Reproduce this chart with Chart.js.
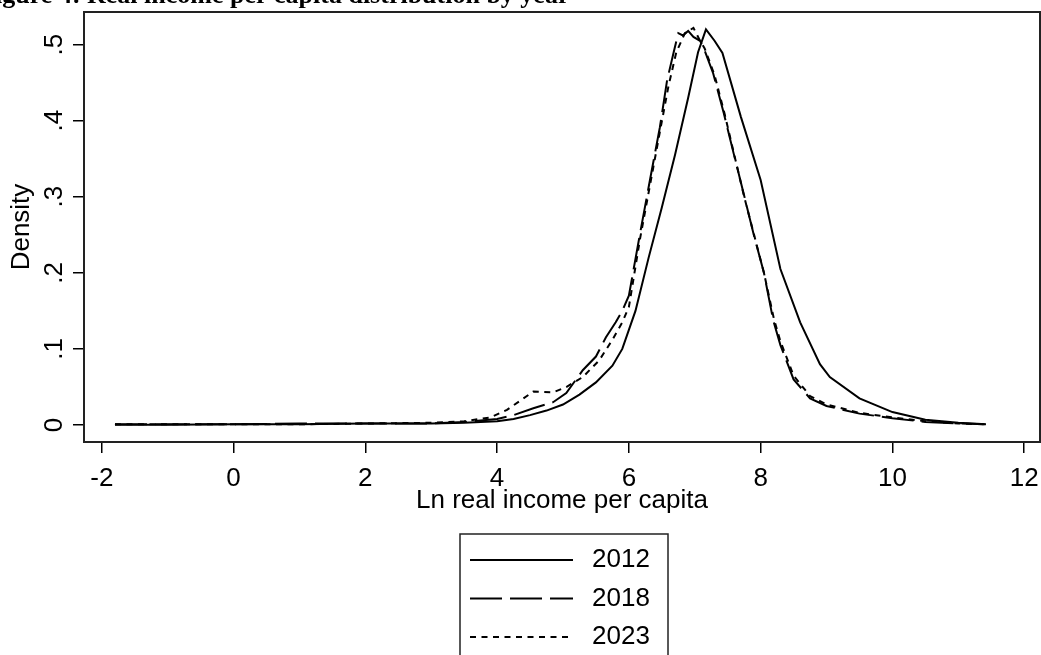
<!DOCTYPE html>
<html>
<head>
<meta charset="utf-8">
<script src="https://cdn.jsdelivr.net/npm/chart.js@4"></script>
<style>
  html, body { margin: 0; padding: 0; background: #fff; }
  #wrap { width: 1041px; height: 655px; }
</style>
</head>
<body>
<div id="wrap"><canvas id="chart" width="1041" height="655"></canvas></div>
<script>
// kernel density of ln real income per capita
const x2012 = [-1.8, -1, 0, 1, 2, 3, 3.5, 4, 4.25, 4.5, 4.75, 5, 5.25, 5.5, 5.75, 5.9, 6, 6.1, 6.3, 6.5, 6.7, 6.9, 7.05, 7.17, 7.3, 7.42, 7.7, 8.0, 8.3, 8.6, 8.9, 9.05, 9.5, 10, 10.5, 11, 11.42];
const y2012 = [0.0005, 0.0005, 0.001, 0.001, 0.002, 0.002, 0.003, 0.005, 0.008, 0.013, 0.019, 0.027, 0.040, 0.056, 0.078, 0.100, 0.125, 0.150, 0.220, 0.286, 0.355, 0.430, 0.490, 0.520, 0.505, 0.489, 0.405, 0.322, 0.205, 0.135, 0.080, 0.063, 0.035, 0.017, 0.007, 0.003, 0.001];

const x2018 = [-1.8, -1, 0, 1, 2, 3, 3.5, 4, 4.25, 4.55, 4.85, 5.05, 5.3, 5.5, 5.65, 5.8, 5.9, 6.0, 6.17, 6.32, 6.47, 6.58, 6.68, 6.75, 6.82, 6.9, 6.98, 7.08, 7.13, 7.28, 7.44, 7.59, 7.74, 7.89, 8.05, 8.19, 8.3, 8.5, 8.75, 9, 9.5, 10, 10.5, 11, 11.4];
const y2018 = [0.001, 0.001, 0.001, 0.002, 0.002, 0.002, 0.004, 0.008, 0.013, 0.022, 0.030, 0.042, 0.072, 0.090, 0.115, 0.135, 0.150, 0.170, 0.252, 0.322, 0.391, 0.453, 0.490, 0.515, 0.512, 0.518, 0.510, 0.505, 0.497, 0.462, 0.410, 0.357, 0.305, 0.252, 0.200, 0.138, 0.105, 0.060, 0.035, 0.025, 0.015, 0.009, 0.004, 0.002, 0.001];

const x2023 = [-1.8, -1, 0, 1, 2, 3, 3.5, 3.9, 4.15, 4.4, 4.55, 4.85, 5.05, 5.3, 5.55, 5.75, 5.9, 6.0, 6.17, 6.32, 6.47, 6.6, 6.72, 6.85, 6.98, 7.08, 7.15, 7.3, 7.45, 7.6, 7.75, 7.9, 8.05, 8.2, 8.3, 8.5, 8.75, 9, 9.5, 10, 10.5, 11, 11.4];
const y2023 = [0.001, 0.001, 0.001, 0.001, 0.002, 0.003, 0.005, 0.010, 0.020, 0.035, 0.044, 0.043, 0.050, 0.063, 0.085, 0.112, 0.135, 0.155, 0.245, 0.315, 0.385, 0.445, 0.490, 0.515, 0.522, 0.505, 0.495, 0.460, 0.410, 0.355, 0.300, 0.250, 0.200, 0.140, 0.110, 0.065, 0.038, 0.027, 0.016, 0.010, 0.005, 0.002, 0.001];

const years = ['2012', '2018', '2023'];
const xTicks = [-2, 0, 2, 4, 6, 8, 10, 12];
const yTicks = [0, 0.1, 0.2, 0.3, 0.4, 0.5];
const yTickLabels = ['0', '.1', '.2', '.3', '.4', '.5'];

const titleText = 'Figure 4: Real income per capita distribution by year';
const font = 'Liberation Sans';

function pts(xs, ys) {
    return xs.map((x, i) => ({x: x, y: ys[i]}));
}

// box around the plot area
const frame = {
    id: 'frame',
    afterDraw(chart) {
        const a = chart.chartArea;
        const ctx = chart.ctx;
        ctx.save();
        ctx.strokeStyle = '#222';
        ctx.lineWidth = 2;
        ctx.strokeRect(a.left, a.top, a.right - a.left, a.bottom - a.top);
        ctx.restore();
    }
};

// figure caption, cut off at the top of the page
const caption = {
    id: 'caption',
    afterDraw(chart) {
        const ctx = chart.ctx;
        ctx.save();
        ctx.font = 'bold 26px "Liberation Serif"';
        ctx.fillStyle = '#000';
        ctx.textBaseline = 'alphabetic';
        const x0 = 230 - ctx.measureText('Figure 4: Real income ').width;
        ctx.fillText(titleText, x0, 3);
        ctx.restore();
    }
};

// stata-style legend box under the axis title
const boxLegend = {
    id: 'boxLegend',
    afterDraw(chart) {
        const ctx = chart.ctx;
        ctx.save();
        ctx.strokeStyle = '#222';
        ctx.lineWidth = 1.5;
        ctx.strokeRect(460, 534, 208, 140);
        chart.data.datasets.forEach((ds, i) => {
            const y = 560 + i * 38.5;
            ctx.beginPath();
            ctx.setLineDash(ds.borderDash || []);
            ctx.lineWidth = 2;
            ctx.strokeStyle = '#000';
            ctx.moveTo(470, y);
            ctx.lineTo(573, y);
            ctx.stroke();
            ctx.setLineDash([]);
            ctx.font = '26px "' + font + '"';
            ctx.fillStyle = '#000';
            ctx.textBaseline = 'middle';
            ctx.fillText(ds.label, 592, y);
        });
        ctx.restore();
    }
};

new Chart(document.getElementById('chart'), {
    type: 'line',
    data: {
        datasets: [{
            label: years[0],
            data: pts(x2012, y2012),
            borderColor: '#000',
            borderWidth: 2,
            pointRadius: 0,
            fill: false
        }, {
            label: years[1],
            data: pts(x2018, y2018),
            borderColor: '#000',
            borderWidth: 2,
            borderDash: [32, 8],
            pointRadius: 0,
            fill: false
        }, {
            label: years[2],
            data: pts(x2023, y2023),
            borderColor: '#000',
            borderWidth: 2,
            borderDash: [6, 5.5],
            pointRadius: 0,
            fill: false
        }]
    },
    options: {
        responsive: false,
        animation: false,
        layout: {
            padding: {top: 12, right: 1, bottom: 138.4, left: 0}
        },
        plugins: {
            legend: {display: false},
            tooltip: {enabled: false}
        },
        scales: {
            x: {
                type: 'linear',
                min: -2.27,
                max: 12.24,
                afterBuildTicks: (s) => { s.ticks = xTicks.map(v => ({value: v})); },
                afterFit: (s) => {
                    s.height = 74.6;
                    s.paddingLeft = 0;
                    s.paddingRight = 0;
                },
                grid: {drawOnChartArea: false, tickLength: 11, color: '#000', lineWidth: 1.5},
                border: {display: false},
                ticks: {
                    autoSkip: false,
                    maxRotation: 0,
                    padding: 10,
                    color: '#000',
                    font: {family: font, size: 26}
                },
                title: {
                    display: true,
                    text: 'Ln real income per capita',
                    color: '#000',
                    padding: 0,
                    font: {family: font, size: 26}
                }
            },
            y: {
                type: 'linear',
                min: -0.0223,
                max: 0.5428,
                afterBuildTicks: (s) => { s.ticks = yTicks.map(v => ({value: v})); },
                afterFit: (s) => {
                    s.width = 84;
                    s.paddingTop = 0;
                    s.paddingBottom = 0;
                },
                grid: {drawOnChartArea: false, tickLength: 11, color: '#000', lineWidth: 1.5},
                border: {display: false},
                ticks: {
                    autoSkip: false,
                    minRotation: 90,
                    maxRotation: 90,
                    crossAlign: 'center',
                    padding: 7,
                    color: '#000',
                    font: {family: font, size: 26},
                    callback: (v) => yTickLabels[yTicks.indexOf(v)]
                },
                title: {
                    display: true,
                    text: 'Density',
                    color: '#000',
                    padding: {top: 6, bottom: 0},
                    font: {family: font, size: 26}
                }
            }
        }
    },
    plugins: [frame, caption, boxLegend]
});
</script>
</body>
</html>
